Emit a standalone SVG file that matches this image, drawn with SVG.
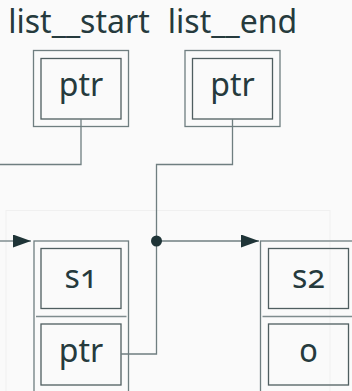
<svg xmlns="http://www.w3.org/2000/svg" width="352" height="391" viewBox="0 0 352 391">
  <defs>
    <style>
      .bg { fill: #fafafa; }
      .cluster { fill: none; stroke: #f0f0f0; stroke-width: 1; }
      .outer { fill: none; stroke: #6f7e80; stroke-width: 1.3; }
      .inner { fill: none; stroke: #4f5e60; stroke-width: 1.3; }
      .sep { fill: none; stroke: #7f8c8e; stroke-width: 1.5; }
      .edge { fill: none; stroke: #6f7e80; stroke-width: 1.3; }
      .lbl { font-family: "Noto Sans", "Open Sans", sans-serif; font-size: 32px; fill: #263a3d; text-anchor: middle; font-variant-numeric: oldstyle-nums; font-feature-settings: "onum" 1; }
      .dot { fill: #1f3437; }
    </style>
    <marker id="arrow" markerWidth="18" markerHeight="13" refX="18" refY="6.5" orient="auto" markerUnits="userSpaceOnUse">
      <path d="M0,0 L18,6.5 L0,13 Z" fill="#1f3437"/>
    </marker>
  </defs>
  <rect class="bg" x="0" y="0" width="352" height="391"/>
  <rect class="cluster" x="6" y="210.5" width="324" height="200"/>

  <g id="list_start">
    <text class="lbl" x="79" y="33">list__start</text>
    <rect class="outer" x="33.5" y="50.5" width="95" height="76"/>
    <rect class="inner" x="41" y="58.5" width="80" height="60.5"/>
    <text class="lbl" x="81" y="96">ptr</text>
  </g>

  <g id="list_end">
    <text class="lbl" x="232.5" y="33">list__end</text>
    <rect class="outer" x="185" y="50.5" width="95" height="76"/>
    <rect class="inner" x="192.5" y="58.5" width="80" height="60.5"/>
    <text class="lbl" x="232.5" y="96">ptr</text>
  </g>

  <g id="s1">
    <rect class="outer" x="34" y="241" width="94.5" height="160"/>
    <rect class="inner" x="41" y="248.5" width="80" height="60"/>
    <text class="lbl" x="81" y="288">s1</text>
    <line class="sep" x1="36" y1="316.5" x2="126.5" y2="316.5"/>
    <rect class="inner" x="41" y="324" width="80" height="61"/>
    <text class="lbl" x="81" y="362">ptr</text>
  </g>

  <g id="s2">
    <rect class="outer" x="260.5" y="241" width="94.5" height="160"/>
    <rect class="inner" x="268.5" y="248.5" width="80" height="60"/>
    <text class="lbl" x="308.5" y="288">s2</text>
    <line class="sep" x1="262.5" y1="316.5" x2="353" y2="316.5"/>
    <rect class="inner" x="268.5" y="324" width="80" height="61"/>
    <text class="lbl" x="308.5" y="362">0</text>
  </g>

  <g id="connectors">
    <polyline class="edge" points="81,119 81,164.5 0,164.5"/>
    <polyline class="edge" points="232.5,119 232.5,164.5 156.5,164.5 156.5,354 121,354"/>
    <line class="edge" x1="0" y1="241" x2="31" y2="241" marker-end="url(#arrow)"/>
    <line class="edge" x1="156.5" y1="241" x2="259" y2="241" marker-end="url(#arrow)"/>
    <circle class="dot" cx="156.5" cy="241" r="5.5"/>
  </g>
</svg>
